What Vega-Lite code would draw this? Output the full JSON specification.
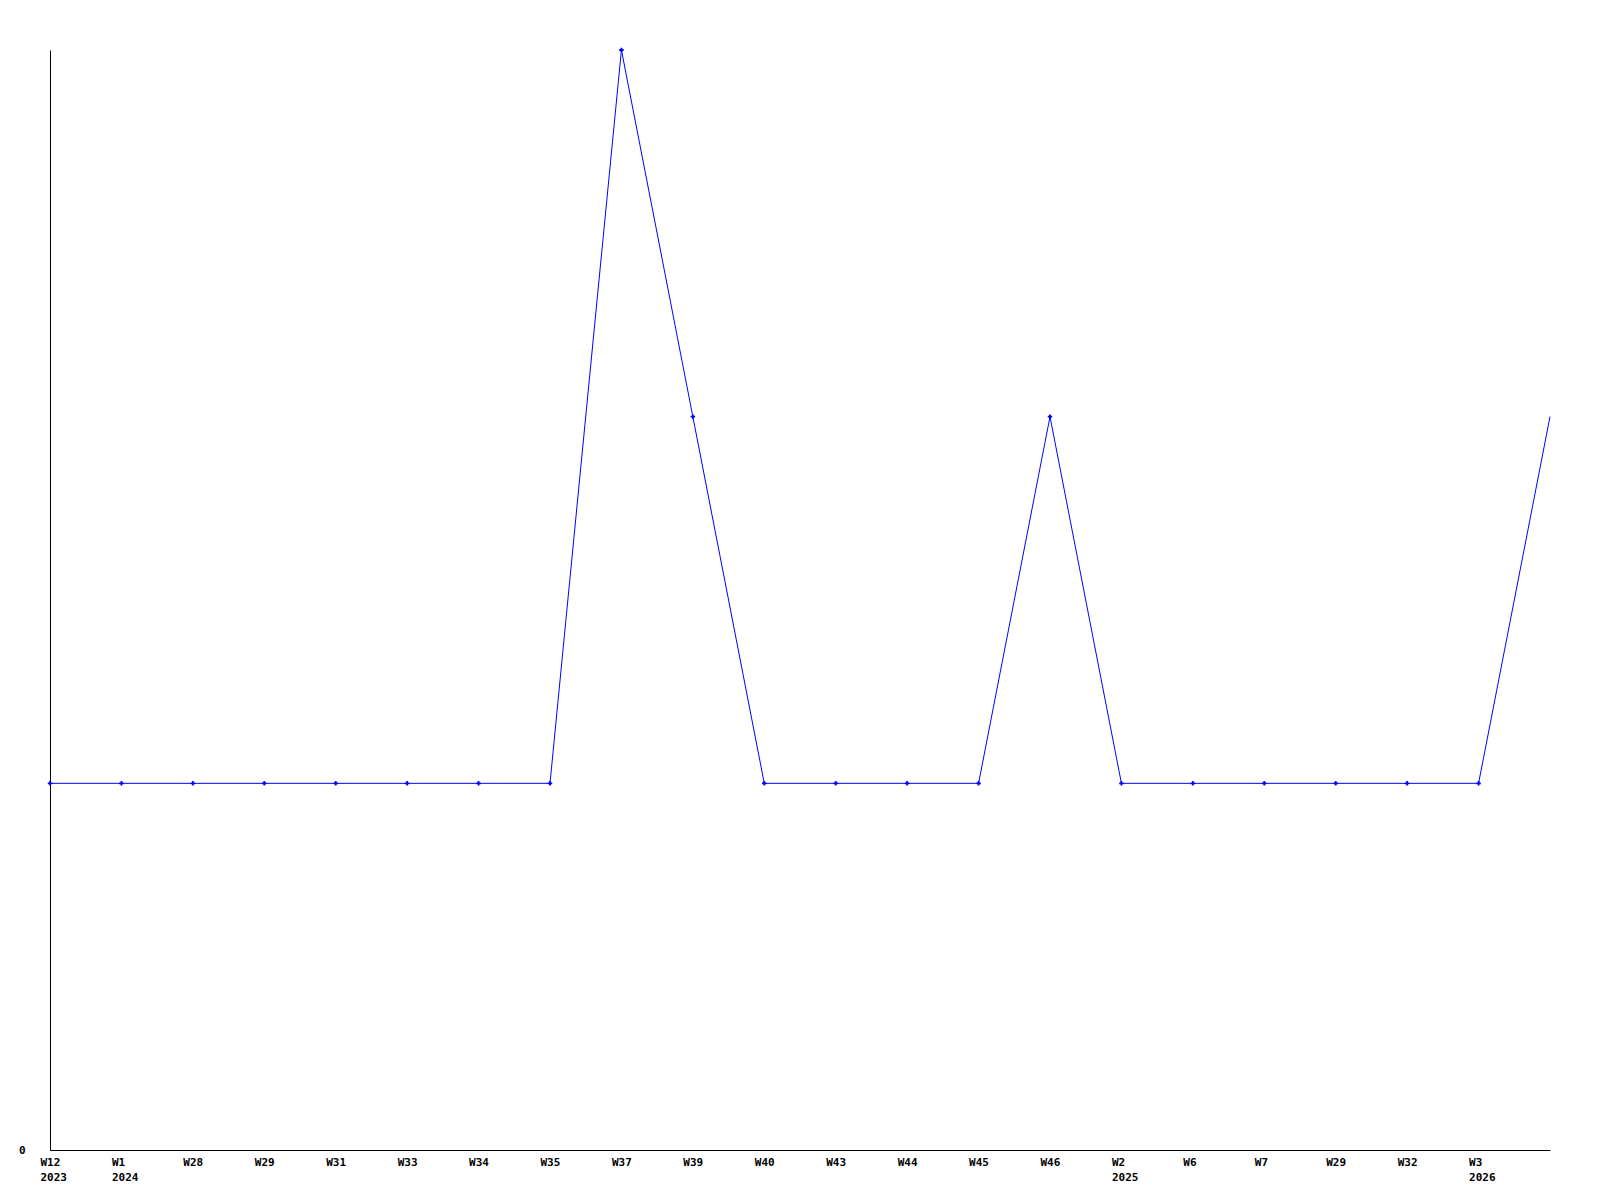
{
  "$schema": "https://vega.github.io/schema/vega-lite/v6.json",
  "width": 1500,
  "height": 1100,
  "autosize": {"type": "none"},
  "padding": {"left": 50, "top": 50, "right": 50, "bottom": 50},
  "background": "white",
  "config": {"view": {"stroke": null}},
  "data": {
    "values": [
      {"period": "2023-W12", "value": 1},
      {"period": "2024-W1", "value": 1},
      {"period": "2024-W28", "value": 1},
      {"period": "2024-W29", "value": 1},
      {"period": "2024-W31", "value": 1},
      {"period": "2024-W33", "value": 1},
      {"period": "2024-W34", "value": 1},
      {"period": "2024-W35", "value": 1},
      {"period": "2024-W37", "value": 3},
      {"period": "2024-W39", "value": 2},
      {"period": "2024-W40", "value": 1},
      {"period": "2024-W43", "value": 1},
      {"period": "2024-W44", "value": 1},
      {"period": "2024-W45", "value": 1},
      {"period": "2024-W46", "value": 2},
      {"period": "2025-W2", "value": 1},
      {"period": "2025-W6", "value": 1},
      {"period": "2025-W7", "value": 1},
      {"period": "2025-W29", "value": 1},
      {"period": "2025-W32", "value": 1},
      {"period": "2026-W3", "value": 1},
      {"period": "2026-W4", "value": 2}
    ]
  },
  "encoding": {
    "x": {
      "field": "period",
      "type": "ordinal",
      "sort": null,
      "scale": {"type": "point", "padding": 0},
      "axis": {
        "title": null,
        "ticks": false,
        "grid": false,
        "domainColor": "black",
        "domainWidth": 1,
        "labelAngle": 0,
        "labelAlign": "left",
        "labelBaseline": "top",
        "labelOffset": -10,
        "labelPadding": 6,
        "labelOverlap": false,
        "labelBound": false,
        "labelFlush": false,
        "labelFont": "DejaVu Sans Mono",
        "labelFontWeight": "bold",
        "labelFontSize": 11,
        "labelColor": "black",
        "labelLineHeight": 15,
        "labelExpr": "indexof(['2023-W12','2024-W1','2025-W2','2026-W3'], datum.value) >= 0 ? [split(datum.value,'-')[1], split(datum.value,'-')[0]] : (datum.value == '2026-W4' ? '' : split(datum.value,'-')[1])"
      }
    },
    "y": {
      "field": "value",
      "type": "quantitative",
      "scale": {"domain": [0, 3], "nice": false, "zero": true},
      "axis": {
        "title": null,
        "values": [0],
        "ticks": false,
        "grid": false,
        "domainColor": "black",
        "domainWidth": 1,
        "labelPadding": 25,
        "labelFont": "DejaVu Sans Mono",
        "labelFontWeight": "bold",
        "labelFontSize": 11,
        "labelColor": "black"
      }
    }
  },
  "layer": [
    {
      "mark": {"type": "line", "color": "#0000ff", "strokeWidth": 1}
    },
    {
      "transform": [{"filter": "datum.period != '2026-W4'"}],
      "mark": {"type": "point", "shape": "cross", "filled": true, "size": 20, "color": "#0000ff", "opacity": 1}
    }
  ]
}
